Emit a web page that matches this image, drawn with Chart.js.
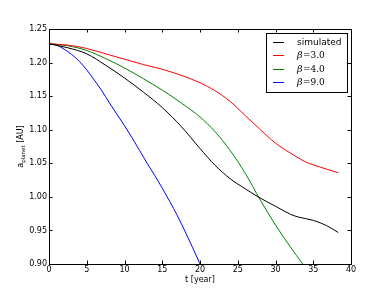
<!DOCTYPE html>
<html>
<head>
<meta charset="utf-8">
<script src="https://cdn.jsdelivr.net/npm/chart.js@4/dist/chart.umd.min.js"></script>
<style>
  html, body { margin: 0; padding: 0; background: #fff; }
  canvas { display: block; }
</style>
</head>
<body>
<canvas id="chart" width="390" height="294"></canvas>
<script>
// values
const simT = [0, 2.5, 5, 7.5, 10, 12.5, 15, 17.5, 20, 22, 24, 26, 27.7, 30, 32, 33, 35, 36.8, 38.3];
const simA = [1.228, 1.222, 1.213, 1.196, 1.177, 1.156, 1.133, 1.105, 1.072, 1.047, 1.027, 1.012, 1.000, 0.986, 0.974, 0.970, 0.965, 0.957, 0.947];

const beta3T = [0, 2.5, 5, 7.5, 10, 12.5, 15, 17.5, 20, 22, 24, 26, 28, 30, 32, 34, 36, 38.3];
const beta3A = [1.228, 1.226, 1.221, 1.213, 1.205, 1.197, 1.190, 1.181, 1.170, 1.158, 1.142, 1.121, 1.100, 1.080, 1.065, 1.052, 1.044, 1.036];

const beta4T = [0, 2.5, 5, 7.5, 10, 12.5, 15, 17.5, 20, 22, 24, 26, 28, 30, 32, 33.6];
const beta4A = [1.228, 1.225, 1.218, 1.206, 1.192, 1.176, 1.159, 1.140, 1.119, 1.097, 1.069, 1.035, 0.995, 0.958, 0.925, 0.900];

const beta9T = [0, 1, 2, 3, 4, 5, 6, 7, 8, 9, 10, 11, 12, 13, 14, 15, 16, 17, 18, 19, 20];
const beta9A = [1.228, 1.226, 1.220, 1.212, 1.202, 1.189, 1.174, 1.158, 1.140, 1.123, 1.106, 1.088, 1.069, 1.050, 1.032, 1.013, 0.993, 0.972, 0.949, 0.925, 0.900];

const seriesLabels = ['simulated', 'β=3.0', 'β=4.0', 'β=9.0'];
const seriesColors = ['#000000', '#ff0000', '#008000', '#0000ff'];

const xTicks = [0, 5, 10, 15, 20, 25, 30, 35, 40];
const yTicks = [0.90, 0.95, 1.00, 1.05, 1.10, 1.15, 1.20, 1.25];

function pts(ts, as) {
  return ts.map((t, i) => ({ x: t, y: as[i] }));
}

const SANS = '"DejaVu Sans", sans-serif';

const decorations = {
  id: 'decorations',
  afterDraw(chart) {
    const ctx = chart.ctx;
    const a = chart.chartArea;
    const xs = chart.scales.x, ys = chart.scales.y;
    ctx.save();
    // frame
    ctx.strokeStyle = '#000';
    ctx.lineWidth = 1;
    ctx.strokeRect(Math.round(a.left) + 0.5, Math.round(a.top) + 0.5,
                   Math.round(a.right - a.left), Math.round(a.bottom - a.top));
    // inward ticks on all sides
    const tl = 3.5;
    ctx.beginPath();
    xTicks.forEach(v => {
      const px = Math.round(xs.getPixelForValue(v)) + 0.5;
      ctx.moveTo(px, a.bottom); ctx.lineTo(px, a.bottom - tl);
      ctx.moveTo(px, a.top); ctx.lineTo(px, a.top + tl);
    });
    yTicks.forEach(v => {
      const py = Math.round(ys.getPixelForValue(v)) + 0.5;
      ctx.moveTo(a.left, py); ctx.lineTo(a.left + tl, py);
      ctx.moveTo(a.right, py); ctx.lineTo(a.right - tl, py);
    });
    ctx.stroke();

    // x title
    ctx.fillStyle = '#000';
    ctx.font = '8px ' + SANS;
    ctx.textAlign = 'center';
    ctx.textBaseline = 'middle';
    ctx.fillText('t [year]', (a.left + a.right) / 2, 280);

    // y title with subscript
    ctx.save();
    ctx.translate(20, (a.top + a.bottom) / 2);
    ctx.rotate(-Math.PI / 2);
    ctx.textBaseline = 'alphabetic';
    ctx.textAlign = 'left';
    const p1 = 'a', p2 = 'planet', p3 = ' [AU]';
    ctx.font = '8px ' + SANS;
    const w1 = ctx.measureText(p1).width;
    const w3 = ctx.measureText(p3).width;
    ctx.font = '5.5px ' + SANS;
    const w2 = ctx.measureText(p2).width;
    let x0 = -(w1 + w2 + w3) / 2;
    ctx.font = '8px ' + SANS;
    ctx.fillText(p1, x0, 3);
    ctx.font = '5.5px ' + SANS;
    ctx.fillText(p2, x0 + w1, 5);
    ctx.font = '8px ' + SANS;
    ctx.fillText(p3, x0 + w1 + w2, 3);
    ctx.restore();

    // legend box
    const bx = 266.5, by = 33.5, bw = 81, bh = 59;
    ctx.fillStyle = '#fff';
    ctx.fillRect(bx, by, bw, bh);
    ctx.strokeStyle = '#000';
    ctx.strokeRect(bx, by, bw, bh);
    chart.data.datasets.forEach((ds, i) => {
      const ry = Math.round(41.7 + 13.5 * i) + 0.5;
      ctx.strokeStyle = ds.borderColor;
      ctx.beginPath();
      ctx.moveTo(273, ry); ctx.lineTo(284, ry);
      ctx.stroke();
      ctx.fillStyle = '#000';
      ctx.textAlign = 'left';
      ctx.textBaseline = 'middle';
      if (i === 0) {
        ctx.font = '9px ' + SANS;
        ctx.fillText(ds.label, 297, ry);
      } else {
        ctx.font = 'italic 9.5px "DejaVu Serif", serif';
        ctx.fillText('β', 297, ry);
        const wb = ctx.measureText('β').width;
        ctx.font = '9px "DejaVu Serif", serif';
        ctx.fillText(ds.label.slice(1), 297 + wb + 0.5, ry);
      }
    });
    ctx.restore();
  }
};

const allT = [simT, beta3T, beta4T, beta9T];
const allA = [simA, beta3A, beta4A, beta9A];

new Chart(document.getElementById('chart'), {
  type: 'line',
  data: {
    datasets: seriesLabels.map((lab, i) => ({
      label: lab,
      data: pts(allT[i], allA[i]),
      borderColor: seriesColors[i],
      backgroundColor: seriesColors[i],
      borderWidth: 1,
      pointRadius: 0,
      cubicInterpolationMode: 'monotone',
      fill: false
    }))
  },
  options: {
    responsive: false,
    animation: false,
    devicePixelRatio: 1,
    layout: { padding: { left: 0, top: 29, right: 39, bottom: 0 } },
    plugins: { legend: { display: false }, tooltip: { enabled: false } },
    scales: {
      x: {
        type: 'linear',
        min: 0, max: 40,
        afterFit(s) { s.height = 30; },
        afterBuildTicks(s) { s.ticks = xTicks.map(v => ({ value: v })); },
        grid: { display: false, drawTicks: false },
        border: { display: false },
        ticks: { padding: 1, color: '#000', font: { family: SANS, size: 8 }, maxRotation: 0,
                 callback: v => String(v) }
      },
      y: {
        type: 'linear',
        min: 0.9, max: 1.25,
        afterFit(s) { s.width = 49; },
        afterBuildTicks(s) { s.ticks = yTicks.map(v => ({ value: v })); },
        grid: { display: false, drawTicks: false },
        border: { display: false },
        ticks: { padding: 2, color: '#000', font: { family: SANS, size: 8 },
                 callback: v => Number(v).toFixed(2) }
      }
    }
  },
  plugins: [decorations]
});
</script>
</body>
</html>
